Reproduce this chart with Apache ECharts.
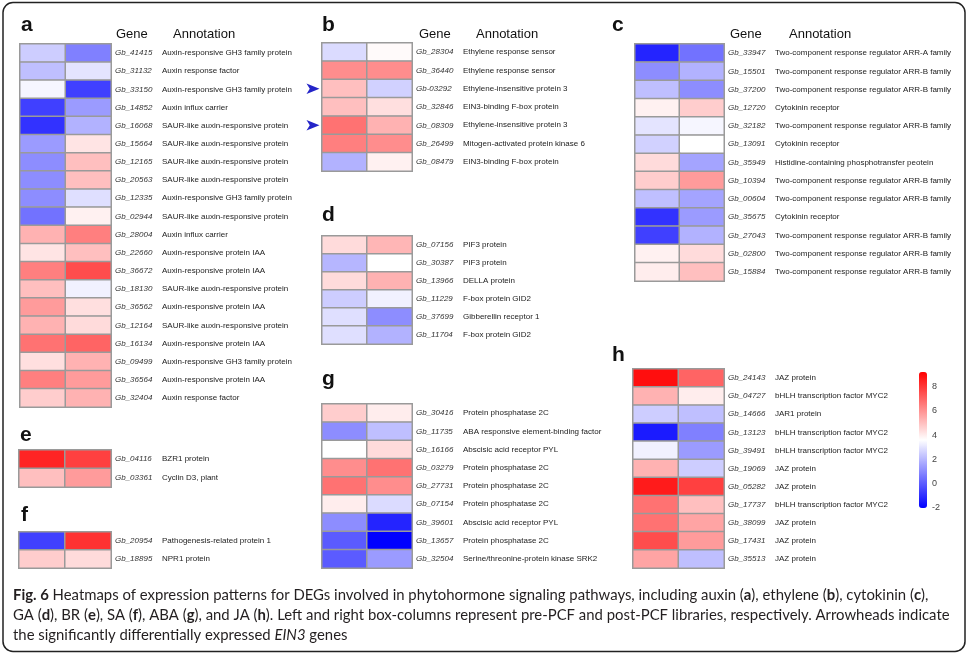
<!DOCTYPE html>
<html><head><meta charset="utf-8">
<script src="https://cdn.jsdelivr.net/npm/echarts@6/dist/echarts.min.js"></script>
<style>html,body{margin:0;padding:0;background:#fff}#c{width:968px;height:655px}</style>
</head><body><div id="c"></div>
<script>
// ---- data ----
const aGenes = ['Gb_41415','Gb_31132','Gb_33150','Gb_14852','Gb_16068','Gb_15664','Gb_12165','Gb_20563','Gb_12335','Gb_02944','Gb_28004','Gb_22660','Gb_36672','Gb_18130','Gb_36562','Gb_12164','Gb_16134','Gb_09499','Gb_36564','Gb_32404'];
const aAnnot = ['Auxin-responsive GH3 family protein','Auxin response factor','Auxin-responsive GH3 family protein','Auxin influx carrier','SAUR-like auxin-responsive protein','SAUR-like auxin-responsive protein','SAUR-like auxin-responsive protein','SAUR-like auxin-responsive protein','Auxin-responsive GH3 family protein','SAUR-like auxin-responsive protein','Auxin influx carrier','Auxin-responsive protein IAA','Auxin-responsive protein IAA','SAUR-like auxin-responsive protein','Auxin-responsive protein IAA','SAUR-like auxin-responsive protein','Auxin-responsive protein IAA','Auxin-responsive GH3 family protein','Auxin-responsive protein IAA','Auxin response factor'];
const aPre  = [2.5,2.2,3.4,-0.6,-0.9,1.4,1.1,1.1,1.1,0.5,5.3,4.2,6.4,5.0,5.8,5.3,6.7,4.3,6.4,4.7];
const aPost = [0.8,3.0,-0.6,1.4,1.9,4.2,5.0,5.0,2.9,3.9,6.4,5.0,7.5,3.3,4.3,4.4,7.0,5.3,5.8,5.3];

const bGenes = ['Gb_28304','Gb_36440','Gb-03292','Gb_32846','Gb_08309','Gb_26499','Gb_08479'];
const bAnnot = ['Ethylene response sensor','Ethylene response sensor','Ethylene-insensitive protein 3','EIN3-binding F-box protein','Ethylene-insensitive protein 3','Mitogen-activated protein kinase 6','EIN3-binding F-box protein'];
const bPre  = [2.8,6.1,5.0,5.0,6.7,6.4,1.9];
const bPost = [3.7,6.1,2.6,4.3,5.3,6.1,3.9];
const bArrows = ['Gb-03292','Gb_08309'];

const cGenes = ['Gb_33947','Gb_15501','Gb_37200','Gb_12720','Gb_32182','Gb_13091','Gb_35949','Gb_10394','Gb_00604','Gb_35675','Gb_27043','Gb_02800','Gb_15884'];
const cAnnot = ['Two-component response regulator ARR-A family','Two-component response regulator ARR-B family','Two-component response regulator ARR-B family','Cytokinin receptor','Two-component response regulator ARR-B family','Cytokinin receptor','Histidine-containing phosphotransfer peotein','Two-component response regulator ARR-B family','Two-component response regulator ARR-B family','Cytokinin receptor','Two-component response regulator ARR-B family','Two-component response regulator ARR-B family','Two-component response regulator ARR-B family'];
const cPre  = [-1.2,1.1,2.2,3.9,3.0,2.6,4.4,4.7,2.2,-0.9,-0.6,3.9,4.0];
const cPost = [0.5,1.9,1.1,4.7,3.4,3.6,1.6,5.8,1.6,1.4,1.9,4.4,5.0];

const dGenes = ['Gb_07156','Gb_30387','Gb_13966','Gb_11229','Gb_37699','Gb_11704'];
const dAnnot = ['PIF3 protein','PIF3 protein','DELLA protein','F-box protein GID2','Gibberellin receptor 1','F-box protein GID2'];
const dPre  = [4.4,2.0,4.4,2.5,2.9,2.9];
const dPost = [5.2,3.6,5.3,3.3,1.1,1.9];

const eGenes = ['Gb_04116','Gb_03361'];
const eAnnot = ['BZR1 protein','Cyclin D3, plant'];
const ePre  = [8.4,5.0];
const ePost = [7.8,5.8];

const fGenes = ['Gb_20954','Gb_18895'];
const fAnnot = ['Pathogenesis-related protein 1','NPR1 protein'];
const fPre  = [-0.6,4.7];
const fPost = [8.1,4.4];

const gGenes = ['Gb_30416','Gb_11735','Gb_16166','Gb_03279','Gb_27731','Gb_07154','Gb_39601','Gb_13657','Gb_32504'];
const gAnnot = ['Protein phosphatase 2C','ABA responsive element-binding factor','Abscisic acid receptor PYL','Protein phosphatase 2C','Protein phosphatase 2C','Protein phosphatase 2C','Abscisic acid receptor PYL','Protein phosphatase 2C','Serine/threonine-protein kinase SRK2'];
const gPre  = [4.7,1.1,3.6,6.1,6.7,4.0,1.1,0.0,0.0];
const gPost = [4.0,2.2,4.4,6.7,6.1,2.8,-1.2,-2.0,1.4];

const hGenes = ['Gb_24143','Gb_04727','Gb_14666','Gb_13123','Gb_39491','Gb_19069','Gb_05282','Gb_17737','Gb_38099','Gb_17431','Gb_35513'];
const hAnnot = ['JAZ protein','bHLH transcription factor MYC2','JAR1 protein','bHLH transcription factor MYC2','bHLH transcription factor MYC2','JAZ protein','JAZ protein','bHLH transcription factor MYC2','JAZ protein','JAZ protein','JAZ protein'];
const hPre  = [8.9,5.3,2.5,-1.4,3.3,5.3,8.6,6.7,6.7,7.5,5.6];
const hPost = [7.0,4.0,2.2,0.8,1.4,2.5,7.8,5.0,5.6,5.8,2.2];

const libraries = ['pre-PCF','post-PCF'];
const scaleMin = -2, scaleMax = 9.2;
const colorbarTicks = [-2,0,2,4,6,8];

const captionLines = [
  '{b|Fig. 6} Heatmaps of expression patterns for DEGs involved in phytohormone signaling pathways, including auxin ({b|a}), ethylene ({b|b}), cytokinin ({b|c}),',
  'GA ({b|d}), BR ({b|e}), SA ({b|f}), ABA ({b|g}), and JA ({b|h}). Left and right box-columns represent pre-PCF and post-PCF libraries, respectively. Arrowheads indicate',
  'the significantly differentially expressed {i|EIN3} genes'
];

// ---- layout ----
const SANS = 'Arial, "Liberation Sans", Helvetica, sans-serif';
const panels = [
  {k:'a', genes:aGenes, annot:aAnnot, pre:aPre, post:aPost, box:{left:20, top:44, width:91, height:363}, letter:[21,25.6], header:[116,173,34]},
  {k:'b', genes:bGenes, annot:bAnnot, pre:bPre, post:bPost, box:{left:322, top:43, width:90, height:128}, letter:[322,25.6], header:[419,476,34]},
  {k:'c', genes:cGenes, annot:cAnnot, pre:cPre, post:cPost, box:{left:635, top:44, width:89, height:237}, letter:[612,25.6], header:[730,789,34]},
  {k:'d', genes:dGenes, annot:dAnnot, pre:dPre, post:dPost, box:{left:322, top:236, width:90, height:108}, letter:[322,215.6]},
  {k:'e', genes:eGenes, annot:eAnnot, pre:ePre, post:ePost, box:{left:19, top:450, width:92, height:37}, letter:[20,435.6]},
  {k:'f', genes:fGenes, annot:fAnnot, pre:fPre, post:fPost, box:{left:19, top:532, width:92, height:36}, letter:[21,515.6]},
  {k:'g', genes:gGenes, annot:gAnnot, pre:gPre, post:gPost, box:{left:322, top:404, width:90, height:164}, letter:[322,379.6]},
  {k:'h', genes:hGenes, annot:hAnnot, pre:hPre, post:hPost, box:{left:633, top:369, width:91, height:199}, letter:[612,355.6]}
];

const grid = [], xAxis = [], yAxis = [], series = [], graphic = [];
panels.forEach((p, i) => {
  grid.push(Object.assign({containLabel:false}, p.box));
  xAxis.push({type:'category', gridIndex:i, data:libraries, show:false});
  yAxis.push({type:'category', gridIndex:i, data:p.genes, inverse:true, position:'right',
    axisLine:{show:false}, axisTick:{show:false}, splitLine:{show:false},
    axisLabel:{margin:4, interval:0,
      formatter:(v, idx) => '{g|' + v + '}{a|' + p.annot[idx] + '}',
      rich:{
        g:{fontFamily:SANS, fontSize:8, fontStyle:'italic', color:'#333', width:47},
        a:{fontFamily:SANS, fontSize:8, color:'#222'}
      }}});
  const data = [];
  p.genes.forEach((g, r) => { data.push([0, r, p.pre[r]]); data.push([1, r, p.post[r]]); });
  const s = {type:'heatmap', name:p.k, xAxisIndex:i, yAxisIndex:i, data:data,
    itemStyle:{borderColor:'#9a9a9a', borderWidth:1.5},
    emphasis:{disabled:true}, label:{show:false}};
  if (p.k === 'b') {
    s.markPoint = {symbol:'arrow', symbolSize:[8,13], symbolRotate:-90, symbolOffset:[-25,0],
      itemStyle:{color:'#2424c8'}, label:{show:false}, silent:true,
      data: bArrows.map(g => ({coord:[0, bGenes.indexOf(g)]}))};
  }
  series.push(s);
  graphic.push({type:'text', x:p.letter[0], y:p.letter[1],
    style:{text:p.k, fontFamily:SANS, fontSize:21, fontWeight:'bold', fill:'#111', verticalAlign:'middle'}});
  if (p.header) {
    graphic.push({type:'text', x:p.header[0], y:p.header[2],
      style:{text:'Gene', fontFamily:SANS, fontSize:13, fill:'#111', verticalAlign:'middle'}});
    graphic.push({type:'text', x:p.header[1], y:p.header[2],
      style:{text:'Annotation', fontFamily:SANS, fontSize:13, fill:'#111', verticalAlign:'middle'}});
  }
});

// colorbar axis
grid.push({left:919, top:372, width:8, height:136});
xAxis.push({type:'value', gridIndex:8, show:false, min:0, max:1});
yAxis.push({type:'value', gridIndex:8, position:'right', min:scaleMin, max:scaleMax, interval:2,
  axisLine:{show:false}, axisTick:{show:false}, splitLine:{show:false},
  axisLabel:{fontFamily:SANS, fontSize:9, color:'#444', margin:5, showMaxLabel:false,
    formatter: v => colorbarTicks.indexOf(v) >= 0 ? String(v) : ''}});

// caption font sizing
const CAP = 'Lato, "Open Sans", sans-serif';
const ctx = document.createElement('canvas').getContext('2d');
ctx.font = '100px ' + CAP;
const plain1 = captionLines[0].replace(/\{[a-z]\|([^}]*)\}/g, '$1');
let capSize = 100 * 914 / ctx.measureText(plain1).width;
capSize = Math.max(12, Math.min(16, capSize));
const capY = [595.7, 615.5, 635];
captionLines.forEach((t, i) => {
  graphic.push({type:'text', x:13, y:capY[i], style:{text:t, fontFamily:CAP, fontSize:capSize, fill:'#231f20', verticalAlign:'middle',
    rich:{b:{fontFamily:CAP, fontSize:capSize, fontWeight:'bold', fill:'#231f20'}, i:{fontFamily:CAP, fontSize:capSize, fontStyle:'italic', fill:'#231f20'}}}});
});
// frame
graphic.push({type:'rect', shape:{x:3, y:2.5, width:962, height:649, r:10}, style:{fill:'none', stroke:'#222', lineWidth:1.5}, silent:true, z:-1});

const chart = echarts.init(document.getElementById('c'), null, {renderer:'canvas'});
chart.setOption({
  animation:false,
  backgroundColor:'#fff',
  grid, xAxis, yAxis, series, graphic,
  visualMap:{type:'continuous', min:scaleMin, max:scaleMax, seriesIndex:[0,1,2,3,4,5,6,7],
    calculable:false, orient:'vertical', left:919, top:372, itemWidth:8, itemHeight:136, padding:0,
    text:null, showLabel:false, inRange:{color:['#0000ff','#ffffff','#ff0000']}}
});
</script></body></html>
